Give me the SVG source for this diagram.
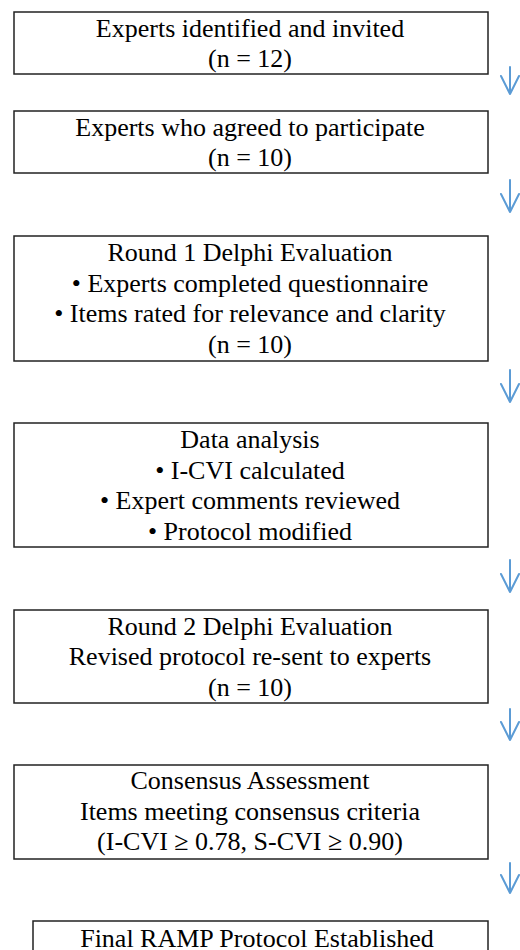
<svg xmlns="http://www.w3.org/2000/svg" width="520" height="950" viewBox="0 0 520 950">
  <style>
    .box { fill: #ffffff; stroke: #222222; stroke-width: 1.5; }
    .t { font-family: "Liberation Serif", "Times New Roman", serif; font-size: 26px; fill: #000000; text-anchor: middle; }
    .arr { fill: none; stroke: #5B9BD5; stroke-width: 2; stroke-linecap: round; stroke-linejoin: round; }
  </style>
  <rect x="0" y="0" width="520" height="950" fill="#ffffff"/>
  <g id="node1">
    <rect class="box" x="14" y="12" width="474" height="62"/>
    <text class="t" x="250" y="37">Experts identified and invited</text>
    <text class="t" x="250" y="67">(n = 12)</text>
  </g>
  <g id="node2">
    <rect class="box" x="14" y="111" width="474" height="62"/>
    <text class="t" x="250" y="136">Experts who agreed to participate</text>
    <text class="t" x="250" y="166">(n = 10)</text>
  </g>
  <g id="node3">
    <rect class="box" x="14" y="236" width="474" height="125"/>
    <text class="t" x="250" y="261">Round 1 Delphi Evaluation</text>
    <text class="t" x="250" y="292">• Experts completed questionnaire</text>
    <text class="t" x="250" y="322">• Items rated for relevance and clarity</text>
    <text class="t" x="250" y="353">(n = 10)</text>
  </g>
  <g id="node4">
    <rect class="box" x="14" y="423" width="474" height="124"/>
    <text class="t" x="250" y="448">Data analysis</text>
    <text class="t" x="250" y="479">• I-CVI calculated</text>
    <text class="t" x="250" y="509">• Expert comments reviewed</text>
    <text class="t" x="250" y="540">• Protocol modified</text>
  </g>
  <g id="node5">
    <rect class="box" x="14" y="610" width="474" height="93"/>
    <text class="t" x="250" y="635">Round 2 Delphi Evaluation</text>
    <text class="t" x="250" y="665">Revised protocol re-sent to experts</text>
    <text class="t" x="250" y="696">(n = 10)</text>
  </g>
  <g id="node6">
    <rect class="box" x="14" y="765" width="474" height="94"/>
    <text class="t" x="250" y="789">Consensus Assessment</text>
    <text class="t" x="250" y="820">Items meeting consensus criteria</text>
    <text class="t" x="250" y="850">(I-CVI ≥ 0.78, S-CVI ≥ 0.90)</text>
  </g>
  <g id="node7">
    <rect class="box" x="33" y="921" width="455" height="60"/>
    <text class="t" x="257" y="947">Final RAMP Protocol Established</text>
  </g>
  <g id="connectors">
    <path class="arr" d="M510 67 V94 M501 76 L510 94 L519 76"/>
    <path class="arr" d="M510 180 V212 M501 194 L510 212 L519 194"/>
    <path class="arr" d="M510 370 V402 M501 384 L510 402 L519 384"/>
    <path class="arr" d="M510 560 V592 M501 574 L510 592 L519 574"/>
    <path class="arr" d="M510 709 V740 M501 722 L510 740 L519 722"/>
    <path class="arr" d="M510 863 V893 M501 875 L510 893 L519 875"/>
  </g>
</svg>
